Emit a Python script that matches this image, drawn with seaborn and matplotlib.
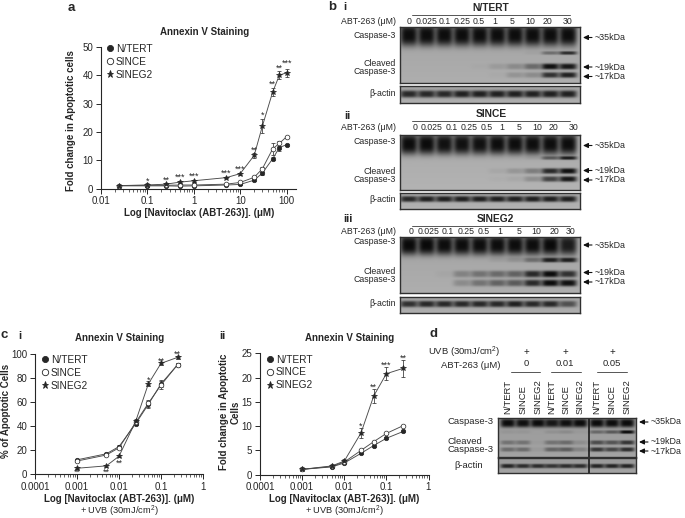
import numpy as np
import pandas as pd
import matplotlib
matplotlib.use('Agg')
import matplotlib.pyplot as plt
from matplotlib.lines import Line2D
import seaborn as sns

W, H = 685, 518
INK = '#262626'

# panel a
conc_a = [0.025, 0.1, 0.25, 0.5, 1, 5, 10, 20, 30, 50, 70, 100]
a_ntert = [1.0, 1.0, 1.0, 0.9, 1.0, 1.3, 1.5, 3.0, 5.5, 10.5, 14.5, 15.5]
a_since = [1.1, 1.2, 1.2, 1.3, 1.3, 1.6, 2.2, 4.0, 7.0, 14.0, 16.0, 18.3]
a_sineg2 = [1.1, 1.3, 1.6, 2.3, 2.8, 3.9, 5.3, 11.7, 22.0, 34.0, 40.0, 40.8]
a_err_ntert = [0.1, 0.1, 0.1, 0.1, 0.1, 0.1, 0.2, 0.3, 0.5, 0.5, 1.4, 0.4]
a_err_since = [0.1, 0.1, 0.1, 0.1, 0.1, 0.2, 0.3, 0.3, 0.6, 2.2, 0.8, 0.4]
a_err_sineg2 = [0.1, 0.2, 0.2, 0.3, 0.3, 0.3, 0.4, 1.0, 2.5, 1.5, 1.4, 1.5]
a_star_x = [0.1, 0.25, 0.5, 1, 5, 10, 20, 30, 50, 70, 100]
a_star_y = [2.6, 3.1, 4.1, 4.4, 5.6, 7.0, 13.7, 25.8, 36.8, 42.5, 44.2]
a_star_txt = ['*', '**', '***', '***', '***', '***', '**', '*', '**', '**', '***']

# panel c i and ii
conc_c = [0.001, 0.005, 0.01, 0.025, 0.05, 0.1, 0.25]
ci_ntert = [12, 17, 23, 42, 58, 75, 91]
ci_since = [11, 16, 22, 43, 59, 74, 91]
ci_sineg2 = [5, 7, 15, 44, 75, 92, 97]
ci_err_ntert = [1, 1, 1, 1.5, 3, 3, 1]
ci_err_since = [1, 1, 1, 1.5, 3, 3, 1]
ci_err_sineg2 = [1, 1, 1, 2, 2, 1, 1]
ci_star_x = [0.001, 0.005, 0.01, 0.05, 0.1, 0.25]
ci_star_y = [2, 1.5, 9.5, 78, 94, 99.5]
ci_star_txt = ['**', '**', '**', '*', '**', '**']

cii_ntert = [1.1, 1.6, 2.4, 4.4, 6.0, 7.5, 8.9]
cii_since = [1.1, 1.7, 2.6, 5.0, 6.8, 8.5, 10.1]
cii_sineg2 = [1.1, 1.8, 2.8, 8.6, 16.2, 20.8, 21.9]
cii_err_ntert = [0.1, 0.1, 0.2, 0.2, 0.3, 0.2, 0.1]
cii_err_since = [0.1, 0.1, 0.2, 0.2, 0.2, 0.1, 0.1]
cii_err_sineg2 = [0.1, 0.2, 0.4, 1.0, 1.5, 1.4, 1.7]
cii_star_x = [0.025, 0.05, 0.1, 0.25]
cii_star_y = [10.0, 18.0, 22.6, 24.0]
cii_star_txt = ['*', '**', '***', '**']

# western blot band darkness, one value per lane
lanes_b = ['0', '0.025', '0.1', '0.25', '0.5', '1', '5', '10', '20', '30']

n_35 = [0.97, 0.97, 0.97, 0.97, 0.97, 0.97, 0.97, 0.97, 0.97, 0.97]
n_up = [0, 0, 0, 0, 0, 0, 0, 0.03, 0.35, 0.75]
n_19 = [0, 0, 0, 0, 0.02, 0.1, 0.2, 0.4, 0.95, 0.9]
n_17 = [0, 0, 0, 0, 0, 0.02, 0.15, 0.2, 0.75, 0.85]
n_act = [0.8, 0.8, 0.8, 0.85, 0.85, 0.85, 0.85, 0.85, 0.85, 0.85]

s_35 = [0.98, 0.98, 0.95, 0.95, 0.95, 0.97, 0.97, 0.97, 0.97, 0.97]
s_up = [0, 0, 0, 0, 0, 0, 0, 0.03, 0.45, 0.85]
s_19 = [0, 0, 0, 0, 0, 0.05, 0.15, 0.3, 0.8, 0.95]
s_17 = [0, 0, 0, 0, 0, 0.02, 0.05, 0.2, 0.65, 0.9]
s_act = [0.8, 0.85, 0.85, 0.85, 0.85, 0.85, 0.85, 0.85, 0.85, 0.85]

g_35 = [0.99, 0.99, 0.97, 0.97, 0.97, 0.97, 0.97, 0.97, 0.99, 0.88]
g_up = [0, 0, 0, 0, 0, 0.05, 0.12, 0.35, 0.85, 0.85]
g_19 = [0, 0, 0.03, 0.25, 0.35, 0.4, 0.45, 0.8, 0.98, 0.75]
g_17 = [0, 0, 0, 0.2, 0.35, 0.45, 0.5, 0.8, 0.98, 0.95]
g_act = [0.75, 0.8, 0.8, 0.8, 0.8, 0.8, 0.85, 0.8, 0.8, 0.55]

lanes_d = ['N/TERT', 'SINCE', 'SINEG2'] * 3
d_35 = [0.97, 0.95, 0.97, 0.9, 0.95, 0.97, 0.97, 0.97, 0.97]
d_up = [0.05, 0.05, 0, 0.08, 0.12, 0.03, 0.35, 0.45, 0.95]
d_19 = [0.3, 0.3, 0.03, 0.3, 0.35, 0.12, 0.55, 0.5, 0.7]
d_17 = [0.35, 0.35, 0.05, 0.4, 0.45, 0.2, 0.7, 0.6, 0.75]
d_act = [0.8, 0.75, 0.75, 0.7, 0.75, 0.75, 0.8, 0.8, 0.8]

sns.set_theme(style='ticks')
plt.rcParams['font.family'] = ['Liberation Sans', 'DejaVu Sans']
plt.rcParams['mathtext.default'] = 'regular'
fig = plt.figure(figsize=(W / 100, H / 100), dpi=100, facecolor='white')


def px_axes(x0, y0, x1, y1):
    return fig.add_axes([x0 / W, 1 - y1 / H, (x1 - x0) / W, (y1 - y0) / H])


def curve_panel(rect, conc, series, errs, xlim, ylim, xticks, xlabels, yticks, stars, legend_loc):
    ax = px_axes(*rect)
    df = pd.DataFrame({'conc': conc, 'N/TERT': series[0], 'SINCE': series[1], 'SINEG2': series[2]})
    styles = [('N/TERT', 'o', INK, 3.2), ('SINCE', 'o', 'white', 3.4), ('SINEG2', '*', INK, 4.0)]
    handles = []
    for (name, mark, face, size), err in zip(styles, errs):
        ax.errorbar(conc, df[name], yerr=err, fmt='none', ecolor='#333333', elinewidth=0.55,
                    capsize=1.3, capthick=0.55, zorder=2)
        sns.lineplot(data=df, x='conc', y=name, ax=ax, color='#4a4a4a', linewidth=0.65, marker=mark,
                     markerfacecolor=face, markeredgecolor=INK, markeredgewidth=0.5,
                     markersize=size, errorbar=None, zorder=3)
        handles.append(Line2D([], [], linestyle='none', marker=mark, markerfacecolor=face,
                              markeredgecolor=INK, markeredgewidth=0.6, markersize=size + 1.2))
    ax.set_xscale('log')
    ax.set_xlim(*xlim)
    ax.set_ylim(*ylim)
    ax.set_xticks(xticks)
    ax.set_xticklabels(xlabels)
    ax.set_yticks(yticks)
    ax.xaxis.set_minor_locator(matplotlib.ticker.LogLocator(base=10, subs=np.arange(2, 10), numticks=12))
    ax.xaxis.set_minor_formatter(matplotlib.ticker.NullFormatter())
    ax.set_xlabel('')
    ax.set_ylabel('')
    ax.tick_params(axis='both', which='major', length=3.5, width=0.7, labelsize=7.0, colors=INK, pad=2)
    ax.tick_params(axis='x', which='minor', length=1.8, width=0.5, color=INK)
    ax.patch.set_alpha(0)
    sns.despine(ax=ax)
    for s in ['left', 'bottom']:
        ax.spines[s].set_linewidth(0.8)
        ax.spines[s].set_color(INK)
    for sx, sy, st in zip(*stars):
        ax.text(sx, sy, st, ha='center', va='center', fontsize=6.5, color=INK)
    ax.legend(handles, ['N/TERT', 'SINCE', 'SINEG2'], loc='upper left', bbox_to_anchor=legend_loc,
              frameon=False, fontsize=7.3, labelspacing=0.28, handlelength=0.5, handletextpad=0.3,
              borderpad=0, borderaxespad=0, labelcolor=INK)
    return ax


def blot(rect, lane_px, rows, bg, divider=None):
    x0, y0, x1, y1 = rect
    ax = px_axes(x0, y0, x1, y1)
    xx, yy = np.meshgrid(np.arange(x0, x1) + 0.5, np.arange(y0, y1) + 0.5)
    img = np.full(xx.shape, bg) + 0.04 * (yy - y0) / (y1 - y0)
    half = (lane_px[1] - lane_px[0]) * 0.5
    for row_y, sy, vals in rows:
        for lx, v in zip(lane_px, vals):
            across = np.exp(-((xx - lx) / half) ** 4)
            down = np.exp(-(np.abs(yy - row_y) / sy) ** 3)
            img = img * (1 - 0.95 * v * across * down)
    sns.heatmap(img, ax=ax, cmap='gray', vmin=0, vmax=1, cbar=False, xticklabels=False, yticklabels=False)
    for s in ax.spines.values():
        s.set_visible(True)
        s.set_linewidth(1.0)
        s.set_color('#303030')
    if divider is not None:
        ax.axvline(divider - x0, color='#111111', linewidth=1.1)
    return ax


# line panels
curve_panel((101, 46.7, 296, 188.7), conc_a, [a_ntert, a_since, a_sineg2],
            [a_err_ntert, a_err_since, a_err_sineg2], (0.01, 0.01 * 10 ** (195 / 46.4)), (0, 50),
            [0.01, 0.1, 1, 10, 100], ['0.01', '0.1', '1', '10', '100'], [0, 10, 20, 30, 40, 50],
            (a_star_x, a_star_y, a_star_txt), (0.035, 1.02))
curve_panel((35, 353.7, 203, 474.3), conc_c, [ci_ntert, ci_since, ci_sineg2],
            [ci_err_ntert, ci_err_since, ci_err_sineg2], (0.0001, 1), (0, 100),
            [0.0001, 0.001, 0.01, 0.1, 1], ['0.0001', '0.001', '0.01', '0.1', '1'], [0, 20, 40, 60, 80, 100],
            (ci_star_x, ci_star_y, ci_star_txt), (0.045, 0.99))
curve_panel((260, 353.3, 428.5, 474.7), conc_c, [cii_ntert, cii_since, cii_sineg2],
            [cii_err_ntert, cii_err_since, cii_err_sineg2], (0.0001, 1), (0, 25),
            [0.0001, 0.001, 0.01, 0.1, 1], ['0.0001', '0.001', '0.01', '0.1', '1'], [0, 5, 10, 15, 20, 25],
            (cii_star_x, cii_star_y, cii_star_txt), (0.045, 0.99))

# blots
lane_px_b = np.linspace(409, 568, 10)
blot((400, 27, 580, 83), lane_px_b, [(35, 11, n_35), (53, 1.8, n_up), (66.5, 3.0, n_19), (75, 2.8, n_17)], 0.64)
blot((400, 86, 580, 103), lane_px_b, [(94, 3.6, n_act)], 0.64)
blot((400, 135, 580, 190), lane_px_b, [(144, 10.5, s_35), (158, 1.8, s_up), (171, 2.8, s_19), (179, 2.8, s_17)], 0.66)
blot((400, 193, 580, 209), lane_px_b, [(199, 3.0, s_act)], 0.66)
blot((400, 237, 580, 293), lane_px_b, [(245, 10, g_35), (260, 2.4, g_up), (274, 3.4, g_19), (283, 3.4, g_17)], 0.64)
blot((400, 297, 580, 313), lane_px_b, [(304, 3.2, g_act)], 0.64)

lane_px_d = [508, 523, 538, 552, 566, 580, 597, 612, 627]
blot((498, 418, 636, 457), lane_px_d, [(423, 4.4, d_35), (432, 1.8, d_up), (442.5, 2.2, d_19), (449.5, 2.2, d_17)], 0.6, divider=589)
blot((498, 458, 636, 473), lane_px_d, [(466, 2.2, d_act)], 0.6, divider=589)

# every caption and arrow goes on one overlay in figure pixels
ov = fig.add_axes([0, 0, 1, 1], zorder=10)
ov.set_xlim(0, W)
ov.set_ylim(H, 0)
ov.axis('off')


def txt(x, y, s, size=6.3, weight='normal', ha='center', rot=0, va='center'):
    ov.text(x, y, s, fontsize=size, fontweight=weight, ha=ha, va=va, rotation=rot, color=INK)


def arrow(x, y, label):
    ov.annotate('', xy=(x, y), xytext=(x + 9, y),
                arrowprops=dict(arrowstyle='-|>,head_length=0.25,head_width=0.12', color='#111111', lw=0.8,
                                shrinkA=0, shrinkB=0))
    txt(x + 12, y, label, ha='left', size=6.4)


def rule(x0, x1, y):
    ov.plot([x0, x1], [y, y], color='#555555', linewidth=0.7)


MU = '\u03bc'
BETA = '\u03b2'
XLAB = f'Log [Navitoclax (ABT-263)]. ({MU}M)'
UVB = '+ UVB (30mJ/cm$^{2}$)'

# panel letters
txt(71, 8, 'a', 9.5, 'bold')
txt(332, 7, 'b', 9.5, 'bold')
txt(4, 335, 'c', 9.5, 'bold')
txt(434, 334, 'd', 9.5, 'bold')

txt(205, 32, 'Annexin V Staining', 7.0, 'bold')
txt(199, 213, XLAB, 7.0, 'bold')
txt(71, 121, 'Fold change in Apoptotic cells', 7.0, 'bold', rot=90)

txt(20, 336, 'i', 8, 'bold')
txt(120, 338, 'Annexin V Staining', 7.0, 'bold')
txt(119, 499.5, XLAB, 7.0, 'bold')
txt(119, 511, UVB, 6.7)
txt(6, 411, '% of Apoptotic Cells', 7.0, 'bold', rot=90)

txt(222, 336, 'ii', 8, 'bold')
txt(350, 338, 'Annexin V Staining', 7.0, 'bold')
txt(344, 499.5, XLAB, 7.0, 'bold')
txt(344, 511, UVB, 6.7)
txt(224, 412, 'Fold change in Apoptotic', 7.0, 'bold', rot=90)
txt(236, 412, 'Cells', 7.0, 'bold', rot=90)

# panel b captions
lbl_x_i = [409, 427, 445, 462, 479, 495, 512, 530, 547, 568]
lbl_x_ii = [415, 432, 452, 469, 487, 502, 519, 537, 553, 574]
lbl_x_iii = [411, 429, 448, 466, 484, 500, 519, 536, 554, 571]
blocks = [
    ('i', 345, 7, 'N/TERT', 491, 8, 21, lbl_x_i, (35, 64, 72), (37.5, 67, 76.5), 94),
    ('ii', 347, 116, 'SINCE', 491, 114, 127, lbl_x_ii, (142, 171, 180), (145.5, 170.5, 180), 200),
    ('iii', 348, 219, 'SINEG2', 495, 219, 232, lbl_x_iii, (242, 272, 280), (245, 272.5, 282), 303),
]
for num, nx, ny, name, tx, ty, ly, lbl_x, caps, arrows_y, acty in blocks:
    txt(nx, ny, num, 8, 'bold')
    txt(tx, ty, name, 7.4, 'bold')
    rule(412, 570, ty + 7)
    txt(396, ly, f'ABT-263 ({MU}M)', ha='right')
    for lx, lab in zip(lbl_x, lanes_b):
        txt(lx, ly, lab)
    txt(396, caps[0], 'Caspase-3', ha='right')
    txt(396, caps[1], 'Cleaved', ha='right')
    txt(396, caps[2], 'Caspase-3', ha='right')
    txt(396, acty, f'{BETA}-actin', ha='right')
    for ay, lab in zip(arrows_y, ['~35kDa', '~19kDa', '~17kDa']):
        arrow(583, ay, lab)

# panel d captions
txt(501, 352, 'UVB (30mJ/cm$^{2}$)', 6.8, ha='right')
txt(501, 365, f'ABT-263 ({MU}M)', 6.8, ha='right')
for gx, dose, r0, r1 in [(526, '0', 511, 540), (565, '0.01', 551, 581), (612, '0.05', 597, 627)]:
    txt(gx, 352, '+', 7)
    txt(gx, 364, dose, 6.8)
    rule(r0, r1, 371.5)
for lx, lab in zip(lane_px_d, lanes_d):
    txt(lx, 414, lab, 6.8, rot=90, va='bottom')
txt(494, 422, 'Caspase-3', 6.8, ha='right')
txt(482, 441, 'Cleaved', 6.8, ha='right')
txt(494, 450, 'Caspase-3', 6.8, ha='right')
txt(483, 465, f'{BETA}-actin', 6.8, ha='right')
arrow(639, 422, '~35kDa')
arrow(639, 442, '~19kDa')
arrow(639, 451, '~17kDa')

fig.savefig('out.png', dpi=100)
